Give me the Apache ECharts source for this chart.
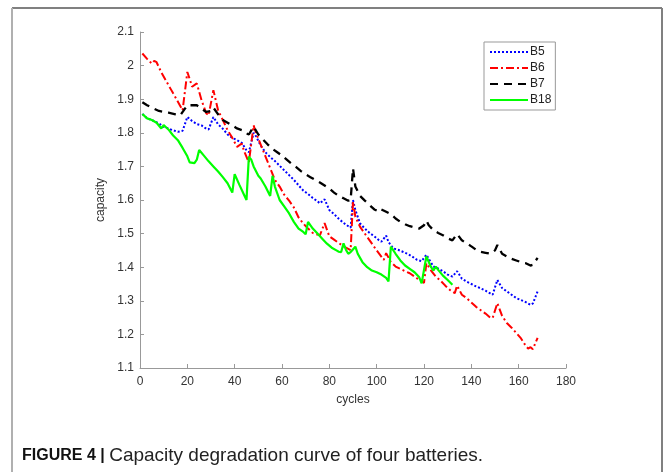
<!DOCTYPE html>
<html>
<head>
<meta charset="utf-8">
<script src="https://cdn.jsdelivr.net/npm/echarts@6/dist/echarts.min.js"></script>
<style>
html,body{margin:0;padding:0;background:#fff;}
#chart{width:665px;height:472px;}
</style>
</head>
<body>
<div id="chart"></div>
<script>
const seriesNames = ['B5', 'B6', 'B7', 'B18'];
const xTicks = [0, 20, 40, 60, 80, 100, 120, 140, 160, 180];
const yTicks = [1.1, 1.2, 1.3, 1.4, 1.5, 1.6, 1.7, 1.8, 1.9, 2, 2.1];

const b5 = [[1,1.856],[3,1.843],[5,1.838],[8,1.828],[10,1.818],[13,1.81],[16,1.803],[18,1.806],[20,1.847],[22,1.835],[24,1.826],[26,1.822],[28,1.812],[29,1.81],[31,1.847],[33,1.825],[35,1.812],[37,1.795],[39,1.785],[41,1.778],[43,1.77],[45,1.748],[46,1.742],[48,1.8],[49,1.79],[51,1.762],[53,1.742],[55,1.728],[57,1.716],[59,1.702],[61,1.688],[63,1.674],[65,1.66],[67,1.644],[69,1.628],[71,1.618],[73,1.606],[75,1.596],[76,1.59],[78,1.602],[80,1.57],[82,1.558],[84,1.544],[86,1.532],[88,1.522],[89,1.518],[90,1.6],[91,1.57],[93,1.53],[95,1.515],[97,1.502],[99,1.492],[101,1.48],[102,1.476],[104,1.494],[105,1.475],[107,1.456],[109,1.452],[111,1.446],[113,1.44],[115,1.432],[117,1.422],[119,1.418],[121,1.437],[122,1.425],[124,1.402],[126,1.396],[128,1.388],[130,1.378],[132,1.372],[134,1.388],[136,1.366],[138,1.357],[140,1.35],[142,1.343],[144,1.337],[146,1.33],[148,1.322],[149,1.318],[151,1.362],[153,1.338],[155,1.328],[157,1.318],[159,1.308],[161,1.302],[163,1.296],[165,1.288],[166,1.292],[168,1.328]];

const b6 = [[1,2.036],[3,2.02],[5,2.006],[6,2.014],[7,2.01],[9,1.98],[11,1.955],[13,1.93],[15,1.905],[17,1.88],[18,1.867],[20,1.981],[21,1.96],[22,1.937],[24,1.947],[26,1.897],[28,1.858],[29,1.852],[31,1.927],[33,1.867],[35,1.838],[37,1.808],[39,1.785],[41,1.758],[43,1.768],[44,1.745],[46,1.712],[48,1.822],[49,1.8],[51,1.765],[53,1.73],[55,1.695],[57,1.66],[59,1.64],[61,1.615],[63,1.598],[65,1.578],[67,1.548],[69,1.53],[71,1.515],[73,1.502],[75,1.497],[76,1.495],[78,1.531],[80,1.492],[82,1.482],[84,1.472],[86,1.462],[89,1.451],[90,1.595],[91,1.55],[93,1.52],[96,1.49],[98,1.47],[100,1.45],[103,1.422],[104,1.442],[106,1.415],[108,1.402],[110,1.395],[112,1.388],[114,1.382],[116,1.372],[118,1.362],[120,1.353],[121,1.412],[123,1.39],[125,1.372],[127,1.36],[129,1.345],[131,1.332],[133,1.323],[134,1.345],[136,1.318],[138,1.308],[140,1.295],[142,1.282],[144,1.272],[146,1.262],[148,1.25],[149,1.249],[151,1.293],[153,1.255],[155,1.234],[157,1.22],[159,1.204],[161,1.188],[163,1.166],[164,1.158],[165,1.162],[166,1.156],[168,1.19]];

const b7 = [[1,1.891],[3,1.882],[5,1.875],[8,1.865],[10,1.862],[12,1.86],[15,1.855],[17,1.852],[19,1.872],[20,1.882],[22,1.882],[24,1.882],[26,1.872],[28,1.862],[30,1.865],[31,1.875],[33,1.855],[35,1.838],[37,1.83],[39,1.822],[41,1.813],[43,1.808],[45,1.798],[46,1.795],[48,1.818],[50,1.795],[52,1.78],[54,1.765],[56,1.752],[58,1.742],[60,1.732],[62,1.72],[64,1.708],[66,1.698],[68,1.686],[70,1.676],[72,1.668],[74,1.66],[76,1.652],[78,1.643],[80,1.634],[82,1.622],[84,1.612],[86,1.605],[88,1.598],[89,1.6],[90,1.694],[91,1.64],[93,1.612],[95,1.598],[97,1.585],[99,1.572],[101,1.565],[102,1.572],[104,1.565],[106,1.558],[108,1.545],[110,1.535],[112,1.528],[114,1.522],[116,1.518],[118,1.515],[120,1.525],[121,1.539],[122,1.525],[124,1.51],[126,1.502],[128,1.495],[130,1.486],[132,1.48],[134,1.499],[136,1.48],[138,1.471],[140,1.462],[142,1.452],[144,1.446],[146,1.443],[148,1.44],[150,1.45],[151,1.466],[153,1.44],[155,1.432],[157,1.425],[159,1.42],[161,1.415],[163,1.412],[165,1.405],[166,1.407],[168,1.428]];

const b18 = [[1,1.856],[3,1.843],[5,1.838],[7,1.83],[9,1.813],[10,1.823],[12,1.81],[14,1.792],[16,1.778],[18,1.755],[20,1.73],[21,1.712],[23,1.71],[24,1.72],[25,1.749],[27,1.732],[29,1.715],[31,1.7],[33,1.685],[35,1.668],[37,1.65],[39,1.622],[40,1.677],[42,1.645],[44,1.615],[45,1.6],[46,1.729],[47,1.72],[48,1.7],[50,1.672],[51,1.664],[53,1.64],[55,1.612],[56,1.672],[57,1.64],[59,1.6],[61,1.58],[63,1.56],[65,1.535],[67,1.515],[69,1.505],[70,1.498],[71,1.535],[73,1.515],[75,1.5],[77,1.485],[79,1.47],[81,1.458],[83,1.45],[84,1.446],[85,1.445],[86,1.471],[87,1.452],[88,1.44],[89,1.445],[91,1.461],[92,1.44],[94,1.415],[96,1.4],[98,1.39],[100,1.385],[102,1.378],[104,1.368],[105,1.358],[106,1.461],[108,1.44],[110,1.42],[112,1.405],[114,1.395],[116,1.385],[118,1.37],[119,1.352],[121,1.432],[123,1.4],[124,1.39],[125,1.402],[126,1.392],[128,1.375],[130,1.362],[132,1.348]];

const xName = 'cycles';
const yName = 'capacity';
const captionBold = 'FIGURE 4 | ';
const captionText = 'Capacity degradation curve of four batteries.';

const chart = echarts.init(document.getElementById('chart'), null, {renderer: 'canvas'});
const fontFam = 'Liberation Sans, Arial, sans-serif';

function mkSeries(name, data, color, type, width) {
  return {
    name: name, type: 'line', data: data, symbol: 'none', smooth: false,
    lineStyle: {color: color, width: width, type: type},
    itemStyle: {color: color},
    animation: false
  };
}

const option = {
  animation: false,
  backgroundColor: '#fff',
  grid: {left: 140, top: 32, right: 99, bottom: 104, containLabel: false},
  xAxis: {
    type: 'value', min: 0, max: 180, interval: 20,
    name: xName, nameLocation: 'middle', nameGap: 26,
    nameTextStyle: {fontFamily: fontFam, fontSize: 12, color: '#333'},
    axisLine: {show: true, lineStyle: {color: '#999', width: 1}},
    axisTick: {show: true, inside: true, length: 4, lineStyle: {color: '#999'}},
    axisLabel: {fontFamily: fontFam, fontSize: 12, color: '#333', margin: 8},
    splitLine: {show: false}
  },
  yAxis: {
    type: 'value', min: 1.1, max: 2.1, interval: 0.1,
    name: yName, nameLocation: 'middle', nameGap: 25,
    nameTextStyle: {fontFamily: fontFam, fontSize: 12, color: '#333'},
    axisLine: {show: true, lineStyle: {color: '#999', width: 1}},
    axisTick: {show: true, inside: true, length: 4, lineStyle: {color: '#999'}},
    axisLabel: {fontFamily: fontFam, fontSize: 12, color: '#333', margin: 6,
      formatter: function (v) { return String(Math.round(v * 10) / 10); }},
    splitLine: {show: false}
  },
  legend: {
    orient: 'vertical', left: 484, top: 42,
    padding: [4, 4, 4, 5], itemWidth: 38, itemHeight: 12, itemGap: 4,
    borderColor: '#999', borderWidth: 1, backgroundColor: '#fff',
    itemStyle: {opacity: 0},
    textStyle: {fontFamily: fontFam, fontSize: 12, color: '#222', padding: [0, 0, 0, -3]},
    data: seriesNames
  },
  series: [
    mkSeries(seriesNames[0], b5, '#0000ff', [2, 2], 2),
    mkSeries(seriesNames[1], b6, '#ff0000', [8, 3, 2, 3], 2),
    mkSeries(seriesNames[2], b7, '#000000', [8, 6], 2.3),
    mkSeries(seriesNames[3], b18, '#00ff00', 'solid', 2.2)
  ],
  graphic: [
    {type: 'line', shape: {x1: 12, y1: 8, x2: 662, y2: 8}, style: {stroke: '#808080', lineWidth: 2}, silent: true},
    {type: 'line', shape: {x1: 12, y1: 8, x2: 12, y2: 472}, style: {stroke: '#b0b0b0', lineWidth: 2}, silent: true},
    {type: 'line', shape: {x1: 662, y1: 8, x2: 662, y2: 472}, style: {stroke: '#808080', lineWidth: 2}, silent: true},
    {type: 'text', left: 22, top: 446,
      style: {
        text: '{b|' + captionBold + '}{n|' + captionText + '}',
        rich: {
          b: {fontFamily: fontFam, fontSize: 16, fontWeight: 'bold', fill: '#111'},
          n: {fontFamily: fontFam, fontSize: 19, fill: '#222'}
        }
      }, silent: true}
  ]
};
chart.setOption(option);
</script>
</body>
</html>
